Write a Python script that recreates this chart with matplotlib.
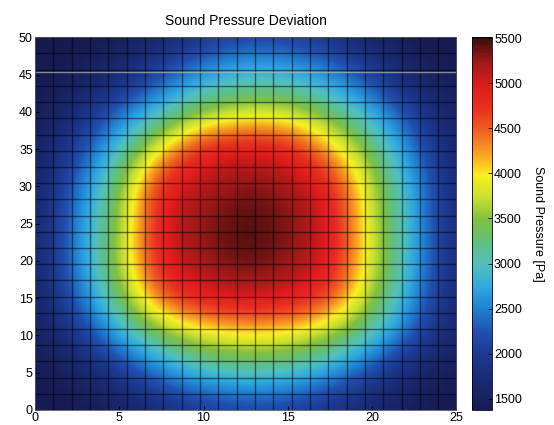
import numpy as np
import matplotlib
matplotlib.use("Agg")
import matplotlib.pyplot as plt
from matplotlib.colors import LinearSegmentedColormap

plt.rcParams['font.family'] = ['Liberation Sans', 'DejaVu Sans']

# --- data (node values, Pa) ---
x_nodes = [0, 2.5, 5, 7.5, 10, 12.5, 15, 17.5, 20, 22.5, 25]
y_nodes = [0, 5, 10, 15, 20, 25, 30, 35, 40, 45, 50]

# one row per y node (bottom to top), one column per x node
pressure = [
    [1380, 1390, 1450, 1700, 1950, 2050, 2000, 1800, 1550, 1420, 1380],  # y=0
    [1400, 1500, 1950, 2500, 2900, 3000, 2950, 2650, 2100, 1600, 1420],  # y=5
    [1450, 1900, 2750, 3350, 3800, 3950, 3900, 3550, 3000, 2250, 1500],  # y=10
    [1500, 2350, 3350, 4550, 5000, 5100, 5050, 4650, 3550, 2600, 1600],  # y=15
    [1550, 2550, 3600, 5050, 5250, 5450, 5300, 5050, 3750, 2750, 1650],  # y=20
    [1550, 2550, 3500, 5050, 5300, 5500, 5350, 5050, 3700, 2750, 1650],  # y=25
    [1500, 2400, 3400, 5000, 5150, 5350, 5250, 4950, 3650, 2700, 1600],  # y=30
    [1450, 2100, 3000, 4000, 5000, 5050, 5000, 4200, 3350, 2450, 1500],  # y=35
    [1400, 1700, 2400, 2950, 3450, 3750, 3700, 3300, 2800, 2050, 1450],  # y=40
    [1380, 1450, 1650, 2200, 2700, 2900, 2850, 2600, 2050, 1550, 1400],  # y=45
    [1375, 1380, 1420, 1600, 1900, 2100, 2050, 1850, 1500, 1390, 1375],  # y=50
]

cbar_ticks = [1500, 2000, 2500, 3000, 3500, 4000, 4500, 5000, 5500]
x_ticks = [0, 5, 10, 15, 20, 25]
y_ticks = [0, 5, 10, 15, 20, 25, 30, 35, 40, 45, 50]
n_cells = 23  # mesh cells in each direction

vmin, vmax = 1375, 5510

# jet as it looks on the printed page (colours sampled from the colour bar)
scan_jet = LinearSegmentedColormap.from_list('scan_jet', [
    (0.00, '#161a50'), (0.03, '#18225e'), (0.09, '#1a2c78'),
    (0.15, '#1c3a90'), (0.21, '#2050b0'), (0.27, '#2080d0'),
    (0.33, '#30a8e0'), (0.39, '#50c0c0'), (0.45, '#60c080'),
    (0.51, '#80c040'), (0.57, '#c8e030'), (0.63, '#f8f020'),
    (0.69, '#f8a020'), (0.75, '#f06020'), (0.81, '#e83020'),
    (0.87, '#e01c1c'), (0.94, '#9a1818'), (1.00, '#3a0c0c'),
])

fig = plt.figure(figsize=(5.54, 4.25), dpi=100)
ax = fig.add_axes([0.063, 0.0353, 0.761, 0.877])
cax = fig.add_axes([0.852, 0.0353, 0.036, 0.877])

Z = np.array(pressure, dtype=float)
dx = (x_nodes[1] - x_nodes[0]) / 2
dy = (y_nodes[1] - y_nodes[0]) / 2
im = ax.imshow(Z, origin='lower', cmap=scan_jet, vmin=vmin, vmax=vmax,
               interpolation='bicubic', aspect='auto',
               extent=(x_nodes[0] - dx, x_nodes[-1] + dx,
                       y_nodes[0] - dy, y_nodes[-1] + dy))

# black measurement mesh over the field
xl = np.linspace(x_nodes[0], x_nodes[-1], n_cells + 1)[1:-1]
yl = np.linspace(y_nodes[0], y_nodes[-1], n_cells + 1)[1:-1]
ax.vlines(xl, y_nodes[0], y_nodes[-1], colors='black', linewidth=1.0, alpha=0.5)
ax.hlines(yl, x_nodes[0], x_nodes[-1], colors='black', linewidth=1.0, alpha=0.5)

# faint scan line near the top
ax.axhline(45.35, color='#b4bca4', linewidth=1.0, alpha=0.7)

ax.set_xlim(0, 25)
ax.set_ylim(0, 50)
ax.set_xticks(x_ticks)
ax.set_yticks(y_ticks)
ax.tick_params(direction='in', length=3, width=0.6, labelsize=9, pad=1.5)
for s in ax.spines.values():
    s.set_linewidth(0.6)
    s.set_color('#555555')
ax.set_title('Sound Pressure Deviation', fontsize=10, pad=9)

cb = fig.colorbar(im, cax=cax, ticks=cbar_ticks)
cb.ax.tick_params(direction='in', length=3, width=0.6, labelsize=9, pad=1.5)
cb.outline.set_linewidth(0.6)
cb.set_label('Sound Pressure [Pa]', rotation=270, fontsize=9, labelpad=16)

fig.savefig('out.png', dpi=100)
